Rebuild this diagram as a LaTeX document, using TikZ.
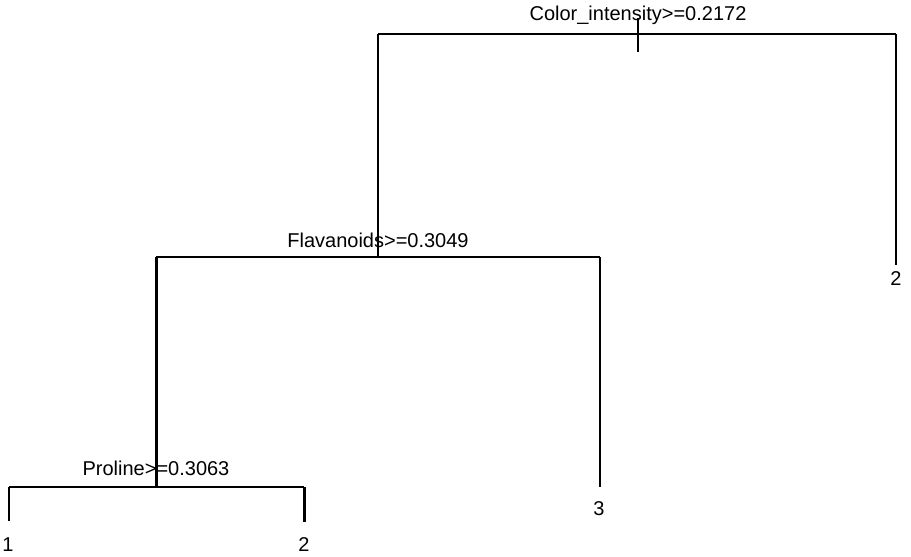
\documentclass[tikz,border=0pt]{standalone}
\usepackage{fontspec}
\setmainfont{Liberation Sans}
\begin{document}
\begin{tikzpicture}[x=1pt,y=-1pt,
  edge/.style={line width=2pt,black},
  thick edge/.style={line width=3pt,black},
  split/.style={font=\fontsize{20}{22}\selectfont,inner sep=0pt,anchor=center},
  leaf/.style={font=\fontsize{20}{22}\selectfont,inner sep=0pt,anchor=center}]
\useasboundingbox (0,0) rectangle (911,557);
% split labels
\node[split] (s1) at (638,15) {Color\_intensity>=0.2172};
\node[split] (s2) at (378,240) {Flavanoids>=0.3049};
\node[split] (s3) at (156,468) {Proline>=0.3063};
% leaves
\node[leaf] (l4) at (896,279) {2};
\node[leaf] (l3) at (599,509) {3};
\node[leaf] (l1) at (8,545) {1};
\node[leaf] (l2) at (304,545) {2};
% junctions
\coordinate (top) at (638,18);
\coordinate (topb) at (638,52);
\coordinate (a) at (378,34);
\coordinate (b) at (896,34);
\coordinate (bend) at (896,265);
\coordinate (c) at (378,257);
\coordinate (d) at (156,257);
\coordinate (e) at (600,257);
\coordinate (eend) at (600,487);
\coordinate (f) at (156,487);
\coordinate (g) at (9,487);
\coordinate (gend) at (9,521);
\coordinate (h) at (304,487);
\coordinate (hend) at (304,522);
% edges
\draw[edge] (top) -- (topb);
\draw[edge] (a) -- (b);
\draw[edge] (a) -- (c);
\draw[edge] (b) -- (bend);
\draw[edge] (d) -- (e);
\draw[thick edge] (d) -- (f);
\draw[edge] (e) -- (eend);
\draw[edge] (g) -- (h);
\draw[edge] (g) -- (gend);
\draw[thick edge] (h) -- (hend);
\end{tikzpicture}
\end{document}
